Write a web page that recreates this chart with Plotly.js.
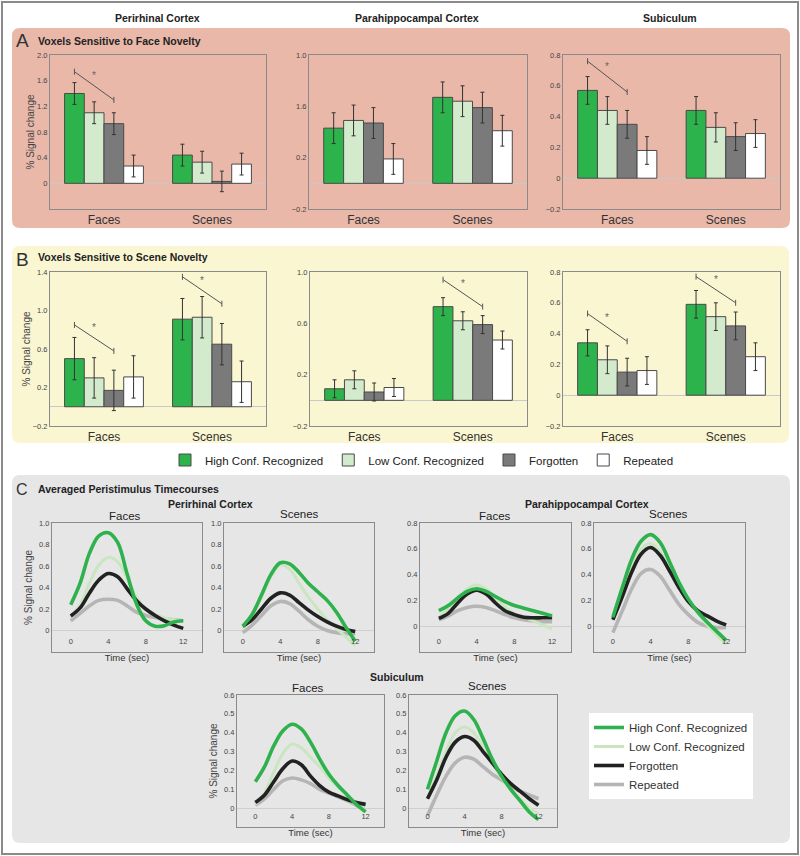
<!DOCTYPE html>
<html>
<head>
<meta charset="utf-8">
<script src="https://cdn.plot.ly/plotly-3.0.1.min.js"></script>
<style>
  html, body { margin: 0; padding: 0; background: #fff; }
  #chart { width: 800px; height: 856px; }
</style>
</head>
<body>
<div id="chart"></div>
<script>
const conditions = ['High Conf. Recognized', 'Low Conf. Recognized', 'Forgotten', 'Repeated'];
const stimulusTypes = ['Faces', 'Scenes'];
const timeSec = [0, 1, 2, 3, 4, 5, 6, 7, 8, 9, 10, 11, 12];

// bar panels: one row per condition, columns = [Faces, Scenes]
const faceNovPrcMean = [[1.40, 0.44], [1.10, 0.33], [0.93, 0.03], [0.27, 0.30]];
const faceNovPrcErr = [[0.17, 0.17], [0.17, 0.17], [0.17, 0.16], [0.17, 0.17]];
const faceNovPhcMean = [[0.43, 0.67], [0.49, 0.64], [0.47, 0.59], [0.19, 0.41]];
const faceNovPhcErr = [[0.12, 0.12], [0.12, 0.12], [0.12, 0.12], [0.12, 0.12]];
const faceNovSubMean = [[0.57, 0.44], [0.44, 0.33], [0.35, 0.27], [0.18, 0.29]];
const faceNovSubErr = [[0.09, 0.09], [0.09, 0.095], [0.09, 0.09], [0.09, 0.09]];
const sceneNovPrcMean = [[0.50, 0.91], [0.30, 0.93], [0.17, 0.65], [0.31, 0.26]];
const sceneNovPrcErr = [[0.22, 0.215], [0.21, 0.215], [0.21, 0.215], [0.22, 0.215]];
const sceneNovPhcMean = [[0.09, 0.73], [0.16, 0.62], [0.065, 0.59], [0.10, 0.47]];
const sceneNovPhcErr = [[0.07, 0.07], [0.07, 0.07], [0.07, 0.07], [0.07, 0.07]];
const sceneNovSubMean = [[0.34, 0.59], [0.23, 0.51], [0.15, 0.45], [0.16, 0.25]];
const sceneNovSubErr = [[0.085, 0.09], [0.09, 0.09], [0.09, 0.09], [0.09, 0.09]];

// significance brackets: [category index, y at High Conf., y at Forgotten]
const faceNovPrcSig = [[0, 1.74, 1.30]];
const faceNovPhcSig = [];
const faceNovSubSig = [[0, 0.76, 0.56]];
const sceneNovPrcSig = [[0, 0.85, 0.58], [1, 1.35, 1.07]];
const sceneNovPhcSig = [[1, 0.94, 0.73]];
const sceneNovSubSig = [[0, 0.53, 0.35], [1, 0.77, 0.60]];

// timecourses: rows = High, Low, Forgotten, Repeated
const tcPrcFaces = [
  [0.24, 0.44, 0.72, 0.88, 0.91, 0.82, 0.53, 0.25, 0.09, 0.04, 0.045, 0.08, 0.09],
  [0.12, 0.24, 0.44, 0.61, 0.68, 0.64, 0.49, 0.31, 0.20, 0.15, 0.12, 0.10, 0.09],
  [0.135, 0.21, 0.35, 0.47, 0.53, 0.50, 0.39, 0.28, 0.20, 0.14, 0.09, 0.05, 0.02],
  [0.09, 0.16, 0.23, 0.28, 0.29, 0.28, 0.23, 0.17, 0.14, 0.12, 0.11, 0.10, 0.09]
];
const tcPrcScenes = [
  [0.04, 0.15, 0.33, 0.52, 0.63, 0.62, 0.54, 0.44, 0.36, 0.28, 0.17, 0.03, -0.10],
  [0.01, 0.13, 0.31, 0.50, 0.61, 0.57, 0.44, 0.31, 0.20, 0.10, 0.02, -0.06, -0.14],
  [0.04, 0.10, 0.20, 0.30, 0.35, 0.33, 0.26, 0.19, 0.13, 0.08, 0.04, 0.01, -0.01],
  [-0.02, 0.05, 0.14, 0.23, 0.27, 0.25, 0.18, 0.10, 0.04, 0.00, -0.02, -0.03, -0.03]
];
const tcPhcFaces = [
  [0.12, 0.16, 0.22, 0.27, 0.29, 0.27, 0.23, 0.19, 0.16, 0.14, 0.12, 0.10, 0.08],
  [0.07, 0.13, 0.22, 0.29, 0.32, 0.29, 0.22, 0.15, 0.10, 0.07, 0.04, 0.01, -0.02],
  [0.06, 0.10, 0.18, 0.25, 0.28, 0.25, 0.18, 0.12, 0.09, 0.07, 0.065, 0.065, 0.065],
  [0.05, 0.08, 0.12, 0.145, 0.155, 0.145, 0.12, 0.09, 0.065, 0.05, 0.04, 0.035, 0.035]
];
const tcPhcScenes = [
  [0.07, 0.30, 0.52, 0.66, 0.71, 0.65, 0.50, 0.34, 0.21, 0.11, 0.03, -0.04, -0.11],
  [0.06, 0.27, 0.47, 0.60, 0.64, 0.58, 0.45, 0.31, 0.20, 0.10, 0.01, -0.07, -0.14],
  [0.05, 0.23, 0.42, 0.56, 0.61, 0.55, 0.43, 0.30, 0.19, 0.12, 0.08, 0.04, 0.01],
  [-0.05, 0.12, 0.29, 0.41, 0.44, 0.39, 0.28, 0.17, 0.09, 0.03, 0.00, -0.01, -0.01]
];
const tcSubFaces = [
  [0.14, 0.22, 0.33, 0.41, 0.445, 0.42, 0.35, 0.26, 0.18, 0.12, 0.07, 0.02, -0.02],
  [0.02, 0.08, 0.19, 0.29, 0.34, 0.32, 0.27, 0.22, 0.16, 0.11, 0.06, 0.02, -0.01],
  [0.03, 0.07, 0.14, 0.21, 0.25, 0.23, 0.17, 0.12, 0.085, 0.065, 0.045, 0.03, 0.02],
  [0.015, 0.05, 0.10, 0.145, 0.16, 0.15, 0.13, 0.10, 0.08, 0.06, 0.04, 0.015, -0.01]
];
const tcSubScenes = [
  [0.10, 0.25, 0.40, 0.49, 0.515, 0.47, 0.37, 0.26, 0.17, 0.10, 0.04, -0.02, -0.06],
  [0.05, 0.17, 0.30, 0.40, 0.43, 0.40, 0.32, 0.24, 0.16, 0.10, 0.05, 0.00, -0.03],
  [0.05, 0.15, 0.27, 0.35, 0.38, 0.36, 0.30, 0.24, 0.18, 0.13, 0.09, 0.05, 0.015],
  [-0.04, 0.07, 0.17, 0.24, 0.27, 0.26, 0.22, 0.18, 0.15, 0.12, 0.09, 0.07, 0.05]
];

// tick labels (the "1.6" on the parahippocampal axis is as printed)
const ticksPrcFaceNov = [[0, 0.4, 0.8, 1.2, 1.6, 2.0], ['0', '0.4', '0.8', '1.2', '1.6', '2.0']];
const ticksPhcFaceNov = [[-0.2, 0.2, 0.6, 1.0], ['\u22120.2', '0.2', '1.6', '1.0']];
const ticksSub = [[-0.2, 0, 0.2, 0.4, 0.6, 0.8], ['\u22120.2', '0', '0.2', '0.4', '0.6', '0.8']];
const ticksPrcSceneNov = [[-0.2, 0.2, 0.6, 1.0, 1.4], ['\u22120.2', '0.2', '0.6', '1.0', '1.4']];
const ticksPhcSceneNov = [[-0.2, 0.2, 0.6, 1.0], ['\u22120.2', '0.2', '0.6', '1.0']];
const ticksTcPrc = [[-0.2, 0, 0.2, 0.4, 0.6, 0.8, 1.0], ['\u22120.2', '0', '0.2', '0.4', '0.6', '0.8', '1.0']];
const ticksTcPhc = [[-0.2, 0, 0.2, 0.4, 0.6, 0.8], ['\u22120.2', '0', '0.2', '0.4', '0.6', '0.8']];
const ticksTcSub = [[-0.1, 0, 0.1, 0.2, 0.3, 0.4, 0.5, 0.6], ['\u22120.1', '0', '0.1', '0.2', '0.3', '0.4', '0.5', '0.6']];
const timeTicks = [0, 4, 8, 12];

const barColors = ['#2db34b', '#d3ebcc', '#7a7a7a', '#ffffff'];
const lineColors = ['#2fb24d', '#c9e6c1', '#222222', '#b5b5b5'];
const lineOrder = [3, 1, 2, 0];

const FONT = 'Liberation Sans, Arial, Helvetica, sans-serif';
const W = 800, H = 856;
const BARGAP = 0.27;

const px = v => v / W;
const py = v => 1 - v / H;

const data = [];
const layout = {
  width: W,
  height: H,
  margin: { l: 0, r: 0, t: 0, b: 0 },
  paper_bgcolor: '#ffffff',
  plot_bgcolor: '#ffffff',
  barmode: 'group',
  bargap: BARGAP,
  bargroupgap: 0,
  font: { family: FONT, color: '#333' },
  showlegend: true,
  shapes: [],
  annotations: [],
  legend: {
    x: px(589), y: py(713), xanchor: 'left', yanchor: 'top',
    bgcolor: '#ffffff', borderwidth: 0,
    font: { size: 11.5, color: '#333' },
    itemwidth: 30, tracegroupgap: 0
  },
  legend2: {
    orientation: 'h',
    x: px(422), y: py(460), xanchor: 'center', yanchor: 'middle',
    bgcolor: 'rgba(0,0,0,0)',
    font: { size: 11.5, color: '#222' },
    itemwidth: 30
  }
};

function axisNames(k) {
  return k === 1 ? ['xaxis', 'yaxis', 'x', 'y'] : ['xaxis' + k, 'yaxis' + k, 'x' + k, 'y' + k];
}

function roundedRect(x0, y0, x1, y1, r) {
  const f = (a, b) => px(a).toFixed(5) + ',' + py(b).toFixed(5);
  return 'M' + f(x0 + r, y0) + ' L' + f(x1 - r, y0) + ' Q' + f(x1, y0) + ' ' + f(x1, y0 + r) +
    ' L' + f(x1, y1 - r) + ' Q' + f(x1, y1) + ' ' + f(x1 - r, y1) +
    ' L' + f(x0 + r, y1) + ' Q' + f(x0, y1) + ' ' + f(x0, y1 - r) +
    ' L' + f(x0, y0 + r) + ' Q' + f(x0, y0) + ' ' + f(x0 + r, y0) + ' Z';
}

function boxAxis(dom, extra) {
  return Object.assign({
    domain: dom,
    showline: true, mirror: true, linecolor: '#8a8a8a', linewidth: 1,
    showgrid: false, zeroline: false, ticks: '', fixedrange: true
  }, extra);
}

function addBarPanel(k, box, means, errs, sig, ticks, yRange, yTitle) {
  const [xa, ya, xr, yr] = axisNames(k);
  layout[xa] = boxAxis([px(box[0]), px(box[1])], {
    anchor: yr, range: [-0.5, 1.5], tickvals: [0, 1], ticktext: stimulusTypes,
    tickfont: { size: 12, color: '#333' }
  });
  layout[ya] = boxAxis([py(box[3]), py(box[2])], {
    anchor: xr, range: yRange, tickvals: ticks[0], ticktext: ticks[1],
    zeroline: true, zerolinecolor: '#c8c8c8', zerolinewidth: 1,
    tickfont: { size: 7.5, color: '#444' },
    title: yTitle ? { text: yTitle, font: { size: 10, color: '#444' }, standoff: 0 } : undefined
  });

  conditions.forEach((name, i) => {
    data.push({
      type: 'bar',
      x: [0, 1],
      y: means[i],
      name: name,
      xaxis: xr, yaxis: yr,
      marker: { color: barColors[i], line: { color: '#4a4a4a', width: 1 } },
      error_y: { type: 'data', array: errs[i], color: '#333', thickness: 1, width: 2 },
      legend: 'legend2',
      showlegend: k === 1,
      hoverinfo: 'skip'
    });
  });

  // bracket from High Conf. bar to Forgotten bar, with an asterisk
  const groupW = 1 - BARGAP;
  const barW = groupW / conditions.length;
  sig.forEach(([cat, yHigh, yForg]) => {
    const xHigh = cat - groupW / 2 + barW * 0.5;
    const xForg = cat - groupW / 2 + barW * 2.5;
    const ln = { color: '#555', width: 1 };
    layout.shapes.push({ type: 'line', xref: xr, yref: yr, x0: xHigh, x1: xForg, y0: yHigh, y1: yForg, line: ln });
    [[xHigh, yHigh], [xForg, yForg]].forEach(([xx, yy]) => {
      layout.shapes.push({
        type: 'line', xref: xr, yref: yr, ysizemode: 'pixel', yanchor: yy,
        x0: xx, x1: xx, y0: -3, y1: 3, line: ln
      });
    });
    layout.annotations.push({
      xref: xr, yref: yr, x: (xHigh + xForg) / 2, y: (yHigh + yForg) / 2,
      text: '*', showarrow: false, yshift: 10, font: { size: 10, color: '#666' }
    });
  });
}

function addTimecoursePanel(k, box, series, ticks, yRange, yTitle) {
  const [xa, ya, xr, yr] = axisNames(k);
  layout[xa] = boxAxis([px(box[0]), px(box[1])], {
    anchor: yr, range: [-2, 14], tickvals: timeTicks,
    ticklabelposition: 'inside', ticklabelstandoff: 5,
    tickfont: { size: 7.5, color: '#444' },
    title: { text: 'Time (sec)', font: { size: 9.5, color: '#333' }, standoff: 9 }
  });
  layout[ya] = boxAxis([py(box[3]), py(box[2])], {
    anchor: xr, range: yRange, tickvals: ticks[0], ticktext: ticks[1],
    zeroline: true, zerolinecolor: '#cfcfcf', zerolinewidth: 1,
    tickfont: { size: 7.5, color: '#444' },
    title: yTitle ? { text: yTitle, font: { size: 10, color: '#444' }, standoff: 0 } : undefined
  });

  lineOrder.forEach(i => {
    data.push({
      type: 'scatter',
      mode: 'lines',
      x: timeSec,
      y: series[i],
      name: conditions[i],
      xaxis: xr, yaxis: yr,
      line: { color: lineColors[i], width: i === 1 ? 3 : 3.6, shape: 'spline', smoothing: 1 },
      legend: 'legend',
      legendrank: i + 1,
      showlegend: k === 7,
      hoverinfo: 'skip'
    });
  });
}

// panel backgrounds and outer frame
layout.shapes.push(
  { type: 'rect', xref: 'paper', yref: 'paper', x0: px(2), x1: px(798), y0: py(854), y1: py(2),
    line: { color: '#8a8a8a', width: 2 }, layer: 'below' },
  { type: 'path', xref: 'paper', yref: 'paper', path: roundedRect(12, 28, 790, 228, 8),
    fillcolor: '#e9b8a9', line: { width: 0 }, layer: 'below' },
  { type: 'path', xref: 'paper', yref: 'paper', path: roundedRect(12, 246, 789, 443, 8),
    fillcolor: '#faf6d1', line: { width: 0 }, layer: 'below' },
  { type: 'path', xref: 'paper', yref: 'paper', path: roundedRect(12, 475, 790, 843, 8),
    fillcolor: '#e6e6e7', line: { width: 0 }, layer: 'below' }
);

addBarPanel(1, [50, 266, 55, 209], faceNovPrcMean, faceNovPrcErr, faceNovPrcSig, ticksPrcFaceNov, [-0.4, 2.0], '% Signal change');
addBarPanel(2, [309, 527, 55, 209], faceNovPhcMean, faceNovPhcErr, faceNovPhcSig, ticksPhcFaceNov, [-0.2, 1.0]);
addBarPanel(3, [563, 780, 55, 209], faceNovSubMean, faceNovSubErr, faceNovSubSig, ticksSub, [-0.2, 0.8]);
addBarPanel(4, [50, 266, 272, 426], sceneNovPrcMean, sceneNovPrcErr, sceneNovPrcSig, ticksPrcSceneNov, [-0.2, 1.4], '% Signal change');
addBarPanel(5, [310, 527, 272, 426], sceneNovPhcMean, sceneNovPhcErr, sceneNovPhcSig, ticksPhcSceneNov, [-0.2, 1.0]);
addBarPanel(6, [563, 780, 272, 426], sceneNovSubMean, sceneNovSubErr, sceneNovSubSig, ticksSub, [-0.2, 0.8]);

addTimecoursePanel(7, [52, 202, 523, 652], tcPrcFaces, ticksTcPrc, [-0.2, 1.0], '% Signal change');
addTimecoursePanel(8, [224, 374, 523, 652], tcPrcScenes, ticksTcPrc, [-0.2, 1.0]);
addTimecoursePanel(9, [420, 571, 523, 652], tcPhcFaces, ticksTcPhc, [-0.2, 0.8]);
addTimecoursePanel(10, [594, 745, 523, 652], tcPhcScenes, ticksTcPhc, [-0.2, 0.8]);
addTimecoursePanel(11, [237, 384, 695, 827], tcSubFaces, ticksTcSub, [-0.1, 0.6], '% Signal change');
addTimecoursePanel(12, [409, 557, 695, 827], tcSubScenes, ticksTcSub, [-0.1, 0.6]);

// text labels
function label(text, x, y, size, opts) {
  layout.annotations.push(Object.assign({
    xref: 'paper', yref: 'paper', x: px(x), y: py(y), text: text, showarrow: false,
    xanchor: 'center', yanchor: 'middle',
    font: { family: FONT, size: size, color: '#222' }
  }, opts || {}));
}
const bold = (size) => ({ font: { family: FONT, size: size, color: '#222', weight: 'bold' } });

label('Perirhinal Cortex', 157, 18, 10.5, bold(10.5));
label('Parahippocampal Cortex', 417, 18, 10.5, bold(10.5));
label('Subiculum', 670, 18, 10.5, bold(10.5));

label('A', 22, 40, 19, { font: { family: FONT, size: 19, color: '#333' } });
label('Voxels Sensitive to Face Novelty', 36, 41, 10.5, Object.assign({ xanchor: 'left' }, bold(10.5)));
label('B', 22, 259, 19, { font: { family: FONT, size: 19, color: '#333' } });
label('Voxels Sensitive to Scene Novelty', 36, 257, 10.5, Object.assign({ xanchor: 'left' }, bold(10.5)));
label('C', 22, 489, 16, { font: { family: FONT, size: 16, color: '#333' } });
label('Averaged Peristimulus Timecourses', 36, 489, 10.5, Object.assign({ xanchor: 'left' }, bold(10.5)));

label('Perirhinal Cortex', 210, 504, 10.5, bold(10.5));
label('Parahippocampal Cortex', 587, 504, 10.5, bold(10.5));
label('Subiculum', 397, 677, 10.5, bold(10.5));

label('Faces', 125, 516, 11.5);
label('Scenes', 299, 514, 11.5);
label('Faces', 495, 516, 11.5);
label('Scenes', 668, 514, 11.5);
label('Faces', 308, 688, 11.5);
label('Scenes', 487, 686, 11.5);

Plotly.newPlot('chart', data, layout, { staticPlot: true, displayModeBar: false });
</script>
</body>
</html>
